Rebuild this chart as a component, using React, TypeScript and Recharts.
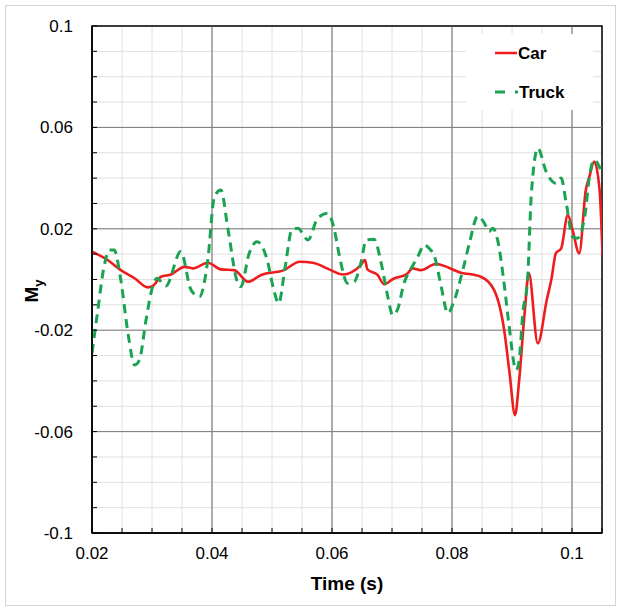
import React from 'react';
import { LineChart, Line, XAxis, YAxis, CartesianGrid, ReferenceLine, ReferenceArea, Legend } from 'recharts';

const FONT = '"Liberation Sans", Arial, sans-serif';

const X_TICKS = [0.02, 0.025, 0.03, 0.035, 0.04, 0.045, 0.05, 0.055, 0.06, 0.065, 0.07, 0.075, 0.08, 0.085, 0.09, 0.095, 0.1, 0.105];
const X_LABELS = [0.02, 0.04, 0.06, 0.08, 0.1];
const X_MAJOR = [0.04, 0.06, 0.08, 0.1];
const Y_TICKS = [-0.1, -0.09, -0.08, -0.07, -0.06, -0.05, -0.04, -0.03, -0.02, -0.01, 0, 0.01, 0.02, 0.03, 0.04, 0.05, 0.06, 0.07, 0.08, 0.09, 0.1];
const Y_LABELS = [0.1, 0.06, 0.02, -0.02, -0.06, -0.1];
const Y_MAJOR = [0.06, 0.02, -0.02, -0.06];

const CAR: [number, number][] = [
  [0.0200, 0.0110], [0.0226, 0.0077], [0.0248, 0.0037], [0.0271, 0.0005], [0.0293, -0.0031],
  [0.0301, -0.0026], [0.0315, 0.0011], [0.0332, 0.0020], [0.0354, 0.0050], [0.0368, 0.0044],
  [0.0393, 0.0066], [0.0415, 0.0040], [0.0437, 0.0037], [0.0460, -0.0009], [0.0482, 0.0018],
  [0.0520, 0.0037], [0.0546, 0.0070], [0.0568, 0.0066], [0.0598, 0.0037], [0.0618, 0.0020],
  [0.0648, 0.0057], [0.0655, 0.0077], [0.0659, 0.0040], [0.0676, 0.0018], [0.0687, -0.0019],
  [0.0701, 0.0001], [0.0726, 0.0024], [0.0734, 0.0044], [0.0748, 0.0037], [0.0773, 0.0061],
  [0.0815, 0.0027], [0.0848, 0.0011], [0.0870, -0.0041], [0.0887, -0.0200], [0.0896, -0.0370],
  [0.0905, -0.0535], [0.0912, -0.0396], [0.0921, -0.0133], [0.0928, 0.0025], [0.0943, -0.0252],
  [0.0958, -0.0080], [0.0966, 0.0005], [0.0973, 0.0103], [0.0982, 0.0123], [0.0993, 0.0254],
  [0.1001, 0.0195], [0.1012, 0.0103], [0.1023, 0.0353], [0.1029, 0.0406], [0.1037, 0.0465],
  [0.1046, 0.0353], [0.1051, 0.0090],
];

const TRUCK: [number, number][] = [
  [0.0200, -0.0290], [0.0209, -0.0133], [0.0220, 0.0050], [0.0229, 0.0116], [0.0237, 0.0116],
  [0.0248, -0.0002], [0.0260, -0.0212], [0.0271, -0.0337], [0.0279, -0.0318], [0.0290, -0.0160],
  [0.0301, -0.0028], [0.0308, 0.0005], [0.0323, -0.0026], [0.0348, 0.0110], [0.0365, -0.0041],
  [0.0379, -0.0068], [0.0393, 0.0077], [0.0404, 0.0327], [0.0415, 0.0353], [0.0426, 0.0208],
  [0.0443, -0.0015], [0.0448, -0.0028], [0.0462, 0.0103], [0.0475, 0.0149], [0.0492, 0.0077],
  [0.0503, -0.0041], [0.0511, -0.0094], [0.0522, 0.0050], [0.0533, 0.0195], [0.0543, 0.0202],
  [0.0560, 0.0156], [0.0576, 0.0241], [0.0593, 0.0261], [0.0604, 0.0195], [0.0612, 0.0097],
  [0.0626, -0.0015], [0.0637, -0.0009], [0.0648, 0.0064], [0.0657, 0.0156], [0.0670, 0.0159],
  [0.0682, 0.0064], [0.0693, -0.0068], [0.0701, -0.0140], [0.0709, -0.0120], [0.0720, -0.0015],
  [0.0732, 0.0044], [0.0743, 0.0090], [0.0754, 0.0136], [0.0763, 0.0120], [0.0771, 0.0090],
  [0.0782, -0.0028], [0.0793, -0.0133], [0.0804, -0.0081], [0.0818, 0.0037], [0.0829, 0.0143],
  [0.0843, 0.0250], [0.0854, 0.0222], [0.0862, 0.0189], [0.0868, 0.0202], [0.0876, 0.0156],
  [0.0886, 0.0000], [0.0894, -0.0160], [0.0907, -0.0357], [0.0912, -0.0318], [0.0918, -0.0133],
  [0.0926, 0.0000], [0.0932, 0.0327], [0.0943, 0.0518], [0.0957, 0.0425], [0.0973, 0.0380],
  [0.0982, 0.0400], [0.0990, 0.0307], [0.1001, 0.0169], [0.1009, 0.0163], [0.1022, 0.0261],
  [0.1029, 0.0406], [0.1037, 0.0471], [0.1048, 0.0432],
];

const carData = CAR.map(([t, m]) => ({ t, m }));
const truckData = TRUCK.map(([t, m]) => ({ t, m }));

const RED = '#ee1c1c';
const GREEN = '#1aa352';

const findLabel = (arr: number[], v: number) => arr.find((l) => Math.abs(l - v) < 1e-9);

const XTick = (p: any) => {
  const v = p.payload.value;
  const lab = findLabel(X_LABELS, v);
  return (
    <g>
      <line x1={p.x} x2={p.x} y1={p.y} y2={p.y - 5} stroke="#000" strokeWidth={1} />
      {lab !== undefined && (
        <text x={p.x} y={p.y + 26} textAnchor="middle" fontSize={17} fill="#000" fontFamily={FONT}>
          {String(lab)}
        </text>
      )}
    </g>
  );
};

const YTick = (p: any) => {
  const v = p.payload.value;
  const lab = findLabel(Y_LABELS, v);
  return (
    <g>
      <line x1={p.x} x2={p.x + 5} y1={p.y} y2={p.y} stroke="#000" strokeWidth={1} />
      {lab !== undefined && (
        <text x={p.x - 19} y={p.y + 6} textAnchor="end" fontSize={17} fill="#000" fontFamily={FONT}>
          {String(lab)}
        </text>
      )}
    </g>
  );
};

const LegendBox = () => (
  <div style={{ width: 127, height: 76, background: '#fff' }}>
    <svg width={127} height={76}>
      <line x1={29} x2={51} y1={19} y2={19} stroke={RED} strokeWidth={2.5} />
      <text x={52} y={25} fontSize={17} fontWeight="bold" fill="#000" fontFamily={FONT}>Car</text>
      <line x1={29} x2={52} y1={58} y2={58} stroke={GREEN} strokeWidth={3} strokeDasharray="10 10" />
      <text x={53} y={64} fontSize={17} fontWeight="bold" fill="#000" fontFamily={FONT}>Truck</text>
    </svg>
  </div>
);

export default function App() {
  return (
    <div style={{ position: 'absolute', left: 0, top: 0, width: 621, height: 609, background: '#fff' }}>
      <div style={{ position: 'absolute', left: 5, top: 5, width: 609, height: 599, border: '1px solid #d4d4d4' }} />
      <div style={{ position: 'absolute', left: 0, top: 0 }}>
        <LineChart width={621} height={609} margin={{ top: 26, right: 19, bottom: 36, left: 32 }}>
          <CartesianGrid stroke="#e0e0e0" strokeWidth={1} />
          <XAxis
            dataKey="t"
            type="number"
            domain={[0.02, 0.105]}
            ticks={X_TICKS}
            interval={0}
            allowDataOverflow
            height={40}
            tickSize={0}
            tickMargin={0}
            tick={<XTick />}
            axisLine={{ stroke: '#000', strokeWidth: 1.5 }}
            tickLine={false}
            label={{
              content: () => (
                <text x={347} y={590} textAnchor="middle" fontSize={19} fontWeight="bold" fill="#000" fontFamily={FONT}>
                  Time (s)
                </text>
              ),
            }}
          />
          <YAxis
            type="number"
            domain={[-0.1, 0.1]}
            ticks={Y_TICKS}
            interval={0}
            allowDataOverflow
            width={60}
            tickSize={0}
            tickMargin={0}
            tick={<YTick />}
            axisLine={{ stroke: '#000', strokeWidth: 1.5 }}
            tickLine={false}
            label={{
              content: () => (
                <text transform="translate(38,291) rotate(-90)" textAnchor="middle" fontSize={19} fontWeight="bold" fill="#000" fontFamily={FONT}>
                  M<tspan fontSize={13} dy={5}>y</tspan>
                </text>
              ),
            }}
          />
          {X_MAJOR.map((v) => (
            <ReferenceLine key={'x' + v} x={v} stroke="#6a6a6a" strokeWidth={1} />
          ))}
          {Y_MAJOR.map((v) => (
            <ReferenceLine key={'y' + v} y={v} stroke="#7a7a7a" strokeWidth={1} />
          ))}
          <ReferenceArea x1={0.02} x2={0.105} y1={-0.1} y2={0.1} fill="none" fillOpacity={0} stroke="#000" strokeWidth={1.5} />
          <Line
            data={carData}
            dataKey="m"
            name="Car"
            type="monotone"
            stroke={RED}
            strokeWidth={2.6}
            dot={false}
            isAnimationActive={false}
          />
          <Line
            data={truckData}
            dataKey="m"
            name="Truck"
            type="monotone"
            stroke={GREEN}
            strokeWidth={3}
            strokeDasharray="9 6"
            dot={false}
            isAnimationActive={false}
          />
          <Legend
            layout="vertical"
            align="center"
            verticalAlign="middle"
            content={<LegendBox />}
            wrapperStyle={{ position: 'absolute', left: 466, top: 34, width: 127, height: 76 }}
          />
        </LineChart>
      </div>
    </div>
  );
}
